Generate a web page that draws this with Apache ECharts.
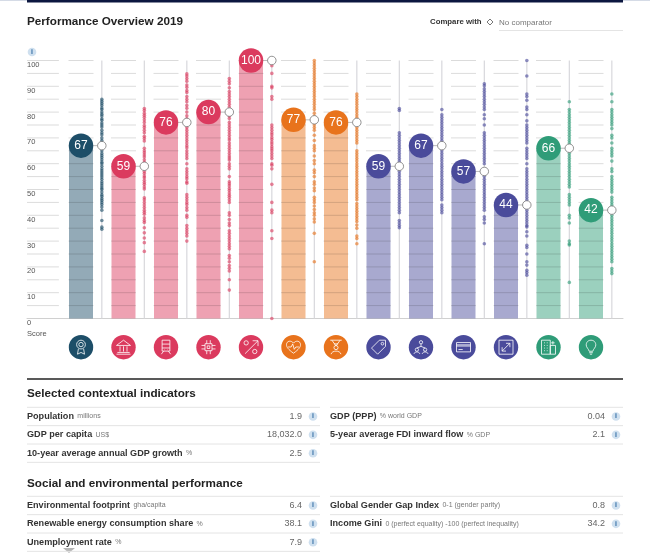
<!DOCTYPE html>
<html>
<head>
<meta charset="utf-8">
<title>Performance Overview 2019</title>
<script src="https://cdn.jsdelivr.net/npm/echarts@6/dist/echarts.min.js"></script>
<style>
  html, body { margin: 0; padding: 0; background: #fff; }
  #chart { width: 650px; height: 554px; }
</style>
</head>
<body>
<div id="chart"></div>
<script>
// scores per pillar
const scores = [67, 59, 76, 80, 100, 77, 76, 59, 67, 57, 44, 66, 42];
const yTicks = [0, 10, 20, 30, 40, 50, 60, 70, 80, 90, 100];
const gridValues = [0, 5, 10, 15, 20, 25, 30, 35, 40, 45, 50, 55, 60, 65, 70, 75, 80, 85, 90, 95, 100];

// peer economies, read from the strips
const strip0 = [85, 84.2, 83.4, 82.6, 81.6, 81, 80, 79.2, 78.5, 77.4, 76.8, 75.8, 75, 74.2, 73, 72, 71.2, 70, 69, 68, 66, 65, 64, 63.2, 62.4, 61.5, 60.6, 60, 59, 58, 57.2, 56.4, 55.6, 54.8, 54, 53, 52.2, 51.4, 50.6, 50, 49, 48, 47.4, 46.5, 45.8, 45, 44.2, 43.2, 42, 38, 35.4, 34.6];
const strip1 = [81.4, 80.6, 79.6, 78.8, 78, 77, 76, 74.8, 74, 73, 72, 70.6, 69.8, 68.8, 66, 65, 64.2, 63.4, 62.6, 61.5, 60.5, 58, 57, 56.2, 55.2, 54.6, 53.6, 52.7, 52, 51, 50.2, 46.8, 46, 45, 44, 43, 42, 41.2, 40.4, 39, 38, 37.2, 35.2, 33.2, 31.2, 29.4, 26];
const strip2 = [94.8, 94, 93, 92, 90.5, 89.6, 88.4, 87.6, 86, 85, 84, 82.6, 81.5, 80, 78.6, 77.4, 75, 74, 73, 72, 71, 70, 69, 68, 67, 66.2, 65, 64, 63, 62, 60, 58, 57, 56, 55, 54.2, 53, 52.4, 48, 47, 46, 45, 44.2, 43, 42, 40, 39.2, 36, 35, 34, 33, 32, 30];
const strip3 = [93, 92, 91, 89.4, 88, 87, 86, 85, 84, 83, 82, 81, 78.5, 77.5, 76, 75, 74, 73, 72, 71, 70, 69.2, 68, 67, 66, 65, 64, 63, 62.2, 61.4, 60, 59, 58, 55, 53, 52.2, 51.4, 50.4, 49.6, 48.6, 47.8, 47, 46, 45, 41, 40, 38.4, 37, 36, 34, 33, 32, 31, 30, 29, 28, 27, 24.4, 23.4, 22, 20.5, 19.5, 18.4, 15, 11];
const strip4 = [100, 98, 95, 90, 89.4, 86, 85, 75, 74, 73, 72, 71.2, 70.2, 69.4, 68.4, 67.6, 66.6, 65.8, 65, 64, 63, 62, 60, 59.4, 58, 52, 45, 42, 41, 34, 31, 0];
const strip5 = [100, 99, 98, 97, 96, 95, 94, 93, 92, 91, 90, 89, 88, 87, 86, 85, 84, 83, 82, 81, 79.6, 78.4, 75, 74, 73, 71, 69, 67, 66, 65, 63, 61.2, 60, 57.5, 56.5, 55, 53, 52, 50.6, 49.5, 47, 46, 45, 43.6, 42.2, 41, 40, 38.6, 37.4, 33, 22];
const strip6 = [87, 86, 85, 84, 83, 82, 81, 80, 79, 78, 74, 73, 72, 71, 70, 69, 68, 65, 64, 63, 62, 61, 60, 59, 58, 57, 56, 55, 54, 53, 52, 51, 50, 49, 48, 47, 46, 44.6, 43.6, 42.6, 41.6, 40.6, 39.6, 38.6, 37.6, 36.2, 35, 32, 31, 29];
const strip7 = [81.4, 80.6, 72, 71, 70, 69, 68, 67, 66, 65, 64, 63, 62, 61, 60, 58, 57, 56, 55, 54, 53, 52, 51, 50, 49, 48, 47, 46, 45, 44, 43, 42, 41, 38, 37, 36, 35.2];
const strip8 = [81, 79, 78, 77, 76, 75, 74, 73, 72, 71, 70, 69, 68, 66, 65, 64, 63, 62, 61, 60, 59, 58, 57, 56, 55, 54, 53, 52, 51, 50, 49, 48, 47, 46, 44, 43, 42, 41];
const strip9 = [91, 90.2, 89, 88, 87, 86, 85, 84, 83, 82, 81, 79, 77.4, 75, 72, 71, 70, 69, 68, 67, 66, 65, 64, 63, 62, 61, 60, 55, 54, 53, 52, 51, 50, 49, 48, 47, 46, 45, 44, 43, 42, 39.4, 38.4, 37, 29];
const strip10 = [100, 94, 87, 86, 84.6, 82, 81, 79, 76.6, 75, 74, 73, 72, 71, 70, 69, 68, 66, 65, 64, 63, 62, 60, 58, 57, 56, 55, 54, 53, 52, 51, 50, 49, 48, 47, 46, 45, 43, 42, 41, 40, 39, 38, 37, 36, 35.5, 33.6, 32, 28.4, 27.5, 25, 22, 20.7, 18.7, 17.8, 16.8];
const strip11 = [84, 81, 80, 79, 78, 77, 76, 75, 74, 73, 72, 71, 70, 69, 68, 67, 64, 63, 62, 61, 60, 59, 58, 57, 56, 55, 54, 53, 52, 51, 48, 47, 46, 45, 44, 40, 39, 37, 30, 29, 28.5, 14];
const strip12 = [87, 84, 81, 80, 79, 78, 77, 76, 75, 73.6, 71, 70, 68, 66, 65, 64, 63, 61, 58, 57, 55, 54, 53, 52, 51, 50, 49, 47, 46, 45, 44, 43, 41, 40, 39, 38, 37, 36, 35, 34, 33, 32, 31, 30, 29, 28, 27, 26, 25, 24, 23, 22, 19.4, 18.4, 17.4];
const strips = [strip0, strip1, strip2, strip3, strip4, strip5, strip6, strip7, strip8, strip9, strip10, strip11, strip12];

const DARK = "#1d4e68", RED = "#db3a5e", ORANGE = "#e8731c", PURPLE = "#4a4b9b", GREEN = "#2f9c78";
const pillarColors = [DARK, RED, RED, RED, RED, ORANGE, ORANGE, PURPLE, PURPLE, PURPLE, PURPLE, GREEN, GREEN];

// icon outlines, one per pillar
const iconPaths = [
  "M7 10a5 5 0 1 0 10 0a5 5 0 1 0 -10 0M9.5 10a2.5 2.5 0 1 0 5 0a2.5 2.5 0 1 0 -5 0M9 15L8 21L12 19L16 21L15 15",
  "M4 10L12 4L20 10ZM8 11V17M12 11V17M16 11V17M5 18H19M4 20H20",
  "M7 3H17V17H7ZM7 8H17M7 13H17M10 15.2H10.5M13.5 15.2H14M9 17L6 21M15 17L18 21",
  "M8 8H16V16H8ZM10.5 10.5H13.5V13.5H10.5ZM10 4V8M14 4V8M10 16V20M14 16V20M4 10H8M4 14H8M16 10H20M16 14H20",
  "M6 18L18 6M13 6H18V11M5 8a2 2 0 1 0 4 0a2 2 0 1 0 -4 0M13 16a2 2 0 1 0 4 0a2 2 0 1 0 -4 0",
  "M12 20C5 15 3 12 3 9C3 4 9 3 12 7C15 3 21 4 21 9C21 12 19 15 12 20ZM5 12H9L11 8L13 15L15 12H19",
  "M5 4H19M7 4L12 11L17 4M9.5 8.5H14.5M9.5 13a2.5 2.5 0 1 0 5 0a2.5 2.5 0 1 0 -5 0M6 21C7 16 17 16 18 21",
  "M4 13L13 4H20V11L11 20ZM15 8a1.5 1.5 0 1 0 3 0a1.5 1.5 0 1 0 -3 0",
  "M10 6a2 2 0 1 0 4 0a2 2 0 1 0 -4 0M5 15a2 2 0 1 0 4 0a2 2 0 1 0 -4 0M15 15a2 2 0 1 0 4 0a2 2 0 1 0 -4 0M12 8V11M7 13L12 11L17 13M3.5 20C4 17 10 17 10.5 20M13.5 20C14 17 20 17 20.5 20",
  "M3 6H21V18H3ZM3 9H21M3 10.5H21M5.5 15H11",
  "M3 3H21V21H3ZM7 17L17 7M12 7H17V12M7 12V17H12",
  "M4 4H14V20H4ZM14 10H20V20H14ZM7 7H8M10 7H11M7 10H8M10 10H11M7 13H8M10 13H11M7 16H8M10 16H11M17 5V9M15 7H19",
  "M12 3C7 3 5.5 7 5.5 9.5C5.5 13 9 15 9.5 18H14.5C15 15 18.5 13 18.5 9.5C18.5 7 17 3 12 3ZM9.5 20H14.5M10.5 22H13.5",
];

// tables under the chart
const contextLeft = [
  ["Population", "millions", "1.9"],
  ["GDP per capita", "US$", "18,032.0"],
  ["10-year average annual GDP growth", "%", "2.5"],
];
const contextRight = [
  ["GDP (PPP)", "% world GDP", "0.04"],
  ["5-year average FDI inward flow", "% GDP", "2.1"],
];
const socialLeft = [
  ["Environmental footprint", "gha/capita", "6.4"],
  ["Renewable energy consumption share", "%", "38.1"],
  ["Unemployment rate", "%", "7.9"],
];
const socialRight = [
  ["Global Gender Gap Index", "0-1 (gender parity)", "0.8"],
  ["Income Gini", "0 (perfect equality) -100 (perfect inequality)", "34.2"],
];

const STRIP_OFFSET = 0.49; // strip sits right of its bar, in category units
const ROW_H = 18.35;
const FONT = '"Liberation Sans", Arial, sans-serif';

function infoIcon(x, y) {
  return [
    { type: "circle", shape: { cx: x, cy: y, r: 4.3 }, style: { fill: "#cfe0ef" } },
    { type: "text", style: { x: x, y: y, text: "i", fill: "#2f6aa3", font: "bold 7px " + FONT, align: "center", verticalAlign: "middle" } },
  ];
}

function hline(x1, x2, y, color, width) {
  return { type: "line", shape: { x1: x1, y1: y, x2: x2, y2: y }, style: { stroke: color, lineWidth: width } };
}

// one column of a table: top rule, then a rule under each row
function tableColumn(rows, x1, x2, top) {
  let els = [hline(x1, x2, top, "#e4e4e4", 1)];
  rows.forEach(function (r, i) {
    let midY = top + ROW_H * i + ROW_H / 2;
    els.push({
      type: "text",
      style: {
        x: x1, y: midY,
        text: "{b|" + r[0] + "} {s|" + r[1] + "}",
        verticalAlign: "middle",
        rich: {
          b: { font: "bold 9.1px " + FONT, fill: "#333" },
          s: { font: "7px " + FONT, fill: "#777" },
        },
      },
    });
    els.push({
      type: "text",
      style: { x: x2 - 18, y: midY, text: r[2], fill: "#666", font: "9px " + FONT, align: "right", verticalAlign: "middle" },
    });
    els = els.concat(infoIcon(x2 - 7, midY));
    els.push(hline(x1, x2, top + ROW_H * (i + 1), "#e4e4e4", 1));
  });
  return els;
}

function heading(text, y) {
  return { type: "text", style: { x: 27, y: y, text: text, fill: "#222", font: "bold 11.7px " + FONT, verticalAlign: "middle" } };
}

let graphics = [
  { type: "rect", shape: { x: 0, y: 0, width: 27, height: 1 }, style: { fill: "#d5dbe6" } },
  { type: "rect", shape: { x: 27, y: 0, width: 596, height: 2.5 }, style: { fill: "#0c1740" } },
  { type: "rect", shape: { x: 623, y: 0, width: 27, height: 1 }, style: { fill: "#d5dbe6" } },
  heading("Performance Overview 2019", 22),
  { type: "text", style: { x: 430, y: 22, text: "Compare with", fill: "#333", font: "bold 7.8px " + FONT, verticalAlign: "middle" } },
  { type: "polygon", shape: { points: [[490, 19], [493, 22], [490, 25], [487, 22]] }, style: { fill: "#fff", stroke: "#555", lineWidth: 0.8 } },
  { type: "text", style: { x: 499, y: 22.5, text: "No comparator", fill: "#777", font: "8px " + FONT, verticalAlign: "middle" } },
  hline(499, 623, 30.5, "#e4e4e4", 1),
  { type: "text", style: { x: 27, y: 333.5, text: "Score", fill: "#555", font: "7.5px " + FONT, verticalAlign: "middle" } },
  hline(27, 623, 379, "#222", 1.5),
  heading("Selected contextual indicators", 394),
  heading("Social and environmental performance", 483.5),
  { type: "polygon", shape: { points: [[63, 548], [75, 548], [69, 553]] }, style: { fill: "#b5b5b5" } },
];
graphics = graphics.concat(infoIcon(32, 52));
graphics = graphics.concat(tableColumn(contextLeft, 27, 320, 407.3));
graphics = graphics.concat(tableColumn(contextRight, 330, 623, 407.3));
graphics = graphics.concat(tableColumn(socialLeft, 27, 320, 496.3));
graphics = graphics.concat(tableColumn(socialRight, 330, 623, 496.3));

let series = [
  // bars
  {
    type: "bar",
    barWidth: 24,
    z: 2,
    silent: true,
    data: scores.map(function (s, i) {
      return { value: [i, s], itemStyle: { color: pillarColors[i], opacity: 0.48 } };
    }),
  },
  // short grid lines, only over the columns
  {
    type: "custom",
    z: 3,
    silent: true,
    data: gridValues.map(function (v) { return [0, v]; }),
    renderItem: function (params, api) {
      let v = api.value(1);
      let y = api.coord([0, v])[1];
      if (v === 0) return null;
      let children = [{
        type: "line",
        shape: { x1: params.coordSys.x, y1: y, x2: api.coord([-0.52, v])[0], y2: y },
        style: { stroke: "rgba(0,0,0,0.14)", lineWidth: 1 },
      }];
      scores.forEach(function (s, i) {
        let cx = api.coord([i, v])[0];
        children.push({
          type: "line",
          shape: { x1: cx - 12.5, y1: y, x2: cx + 12.5, y2: y },
          style: { stroke: "rgba(0,0,0,0.14)", lineWidth: 1 },
        });
      });
      return { type: "group", children: children };
    },
  },
  // strip track and the link from bubble to marker
  {
    type: "custom",
    z: 3,
    silent: true,
    data: scores.map(function (s, i) { return [i, s]; }),
    renderItem: function (params, api) {
      let i = api.value(0), s = api.value(1);
      let bottom = api.coord([i + STRIP_OFFSET, 0]);
      let top = api.coord([i + STRIP_OFFSET, 100]);
      let c = api.coord([i, s]);
      let m = api.coord([i + STRIP_OFFSET, s]);
      return {
        type: "group",
        children: [
          { type: "line", shape: { x1: bottom[0], y1: bottom[1], x2: top[0], y2: top[1] }, style: { stroke: "#d8d8dc", lineWidth: 1.2 } },
          { type: "line", shape: { x1: c[0], y1: c[1], x2: m[0], y2: m[1] }, style: { stroke: "#aaa", lineWidth: 0.8 } },
        ],
      };
    },
  },
];

// dots of every strip
strips.forEach(function (strip, i) {
  series.push({
    type: "scatter",
    z: 4,
    silent: true,
    clip: false,
    symbolSize: 3.6,
    itemStyle: { color: pillarColors[i], opacity: 0.62 },
    data: strip.map(function (v) { return [i + STRIP_OFFSET, v]; }),
  });
});

// bubbles with the score
series.push({
  type: "scatter",
  z: 5,
  silent: true,
  clip: false,
  symbolSize: 24.5,
  itemStyle: { opacity: 1 },
  data: scores.map(function (s, i) {
    return { value: [i, s], itemStyle: { color: pillarColors[i], opacity: 1 } };
  }),
  label: {
    show: true,
    position: "inside",
    color: "#fff",
    fontSize: 12,
    fontFamily: FONT,
    formatter: function (p) { return p.value[1]; },
  },
});

// hollow markers on the strips
series.push({
  type: "scatter",
  z: 6,
  silent: true,
  clip: false,
  symbolSize: 8.5,
  itemStyle: { color: "#fff", borderColor: "#777", borderWidth: 0.8, opacity: 1 },
  data: scores.map(function (s, i) { return [i + STRIP_OFFSET, s]; }),
});

// round icons under the axis
series.push({
  type: "custom",
  z: 5,
  silent: true,
  data: scores.map(function (s, i) { return [i, 0]; }),
  renderItem: function (params, api) {
    let i = api.value(0);
    let p = api.coord([i, 0]);
    let cy = p[1] + 28.7;
    return {
      type: "group",
      children: [
        { type: "circle", shape: { cx: p[0], cy: cy, r: 12.2 }, style: { fill: pillarColors[i] } },
        {
          type: "path",
          shape: { pathData: iconPaths[i], x: p[0] - 7, y: cy - 7, width: 14, height: 14, layout: "center" },
          style: { fill: "none", stroke: "#fff", lineWidth: 0.8 },
        },
      ],
    };
  },
});

let option = {
  animation: false,
  textStyle: { fontFamily: FONT },
  grid: { left: 27, right: 27, top: 60.5, height: 258 },
  xAxis: {
    type: "value",
    min: -1.2706,
    max: 12.7529,
    splitLine: { show: false },
    axisTick: { show: false },
    axisLabel: { show: false },
    axisLine: { show: true, lineStyle: { color: "#d0d0d0", width: 1 } },
  },
  yAxis: {
    type: "value",
    min: 0,
    max: 100,
    interval: 10,
    splitLine: { show: false },
    axisTick: { show: false },
    axisLine: { show: false },
    axisLabel: {
      inside: true,
      margin: 0,
      color: "#555",
      fontSize: 7.5,
      verticalAlign: "top",
      lineHeight: 9,
      customValues: yTicks,
    },
  },
  graphic: graphics,
  series: series,
};

let myChart = echarts.init(document.getElementById("chart"));
myChart.setOption(option);
</script>
</body>
</html>
